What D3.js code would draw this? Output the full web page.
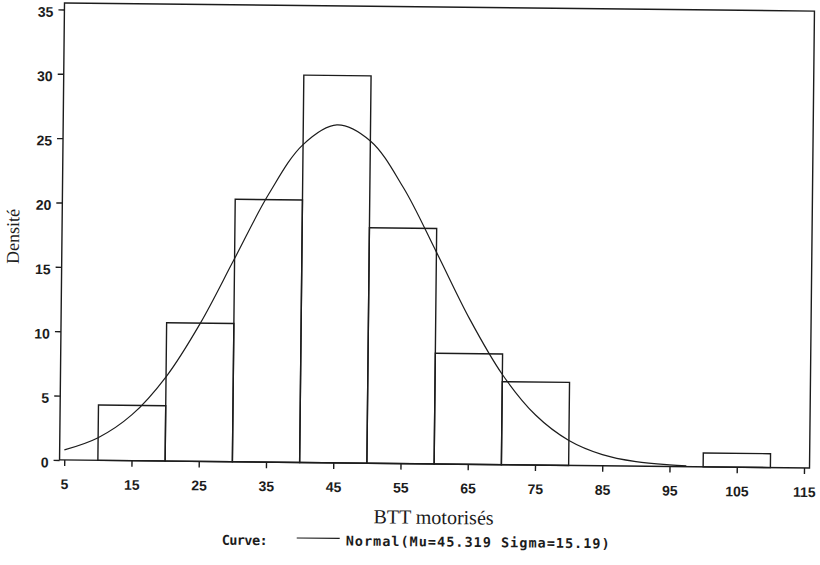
<!DOCTYPE html>
<html>
<head>
<meta charset="utf-8">
<script src="https://cdn.jsdelivr.net/npm/d3@7"></script>
<style>
  html, body { margin: 0; padding: 0; background: #fff; }
  svg { display: block; }
</style>
</head>
<body>
<svg id="chart" width="820" height="565"></svg>
<script>
// ---- data ----
const binStarts = [10, 20, 30, 40, 50, 60, 70, 100];
const binWidth = 10;
const densities = [4.3, 10.75, 20.4, 30.1, 18.3, 8.6, 6.45, 1.08];
const curveX = [5, 10, 15, 20, 25, 30, 35, 40, 45, 50, 55, 60, 65, 70, 75, 80, 85, 90, 95, 97.5];
const curveY = [0.78, 1.76, 3.58, 6.55, 10.73, 15.79, 20.85, 24.70, 26.26, 25.04, 21.43, 16.46, 11.34, 7.01, 3.89, 1.94, 0.87, 0.35, 0.125, 0.072];
const xTicks = [5, 15, 25, 35, 45, 55, 65, 75, 85, 95, 105, 115];
const yTicks = [0, 5, 10, 15, 20, 25, 30, 35];
const xTitle = "BTT motorisés";
const yTitle = "Densité";
const legendLabel = "Curve:";
const legendText = "Normal(Mu=45.319 Sigma=15.19)";

// ---- layout ----
const frame = { left: 62, right: 812, top: 7, bottom: 464 };
const ink = "#1c1c1c";

const svg = d3.select("#chart");
const g = svg.append("g").attr("transform", "rotate(0.62, 437, 236)");

const x = d3.scaleLinear().domain([5, 115]).range([66.7, 806.5]);
const y = d3.scaleLinear().domain([0, 35]).range([464, 13.5]);

// frame
g.append("rect")
  .attr("x", frame.left).attr("y", frame.top)
  .attr("width", frame.right - frame.left).attr("height", frame.bottom - frame.top)
  .attr("fill", "none").attr("stroke", ink).attr("stroke-width", 1.4);

// bars
g.selectAll("rect.bar").data(binStarts).enter().append("rect")
  .attr("class", "bar")
  .attr("x", d => x(d))
  .attr("width", d => x(d + binWidth) - x(d))
  .attr("y", (d, i) => y(densities[i]))
  .attr("height", (d, i) => y(0) - y(densities[i]))
  .attr("fill", "none").attr("stroke", ink).attr("stroke-width", 1.4);

// normal curve
const line = d3.line()
  .x((d, i) => x(curveX[i]))
  .y(d => y(d))
  .curve(d3.curveCatmullRom);
g.append("path").datum(curveY)
  .attr("d", line)
  .attr("fill", "none").attr("stroke", ink).attr("stroke-width", 1.2);

// x axis
const xAxis = d3.axisBottom(x).tickValues(xTicks).tickSize(6).tickPadding(14).tickSizeOuter(0);
const gx = g.append("g").attr("transform", `translate(0,${frame.bottom})`).call(xAxis);
gx.select(".domain").remove();
gx.selectAll(".tick line").attr("stroke", ink).attr("stroke-width", 1.4);
gx.selectAll(".tick text")
  .attr("fill", ink)
  .style("font-family", "'Liberation Sans', Arial, sans-serif")
  .style("font-weight", "bold")
  .style("font-size", "14px")
  .attr("dy", null)
  .attr("y", 29);

// y axis
const yAxis = d3.axisLeft(y).tickValues(yTicks).tickSize(6).tickPadding(5).tickSizeOuter(0);
const gy = g.append("g").attr("transform", `translate(${frame.left},0)`).call(yAxis);
gy.select(".domain").remove();
gy.selectAll(".tick line").attr("stroke", ink).attr("stroke-width", 1.4);
gy.selectAll(".tick text")
  .attr("fill", ink)
  .style("font-family", "'Liberation Sans', Arial, sans-serif")
  .style("font-weight", "bold")
  .style("font-size", "14px")
  .attr("dy", "0.5em");

// titles
g.append("text")
  .attr("x", 436.6).attr("y", 524)
  .attr("text-anchor", "middle")
  .style("font-family", "'Liberation Serif', 'Times New Roman', serif")
  .style("font-size", "20px")
  .attr("fill", ink)
  .text(xTitle);

g.append("text")
  .attr("transform", "translate(19,241) rotate(-90)")
  .attr("text-anchor", "middle")
  .style("font-family", "'Liberation Serif', 'Times New Roman', serif")
  .style("font-size", "18px")
  .attr("fill", ink)
  .text(yTitle);

// legend
const mono = "'DejaVu Sans Mono', 'Liberation Mono', monospace";
g.append("text")
  .attr("x", 225).attr("y", 547)
  .style("font-family", mono).style("font-weight", "bold").style("font-size", "13.5px")
  .attr("textLength", 46).attr("lengthAdjust", "spacing")
  .attr("fill", ink).text(legendLabel);
g.append("line")
  .attr("x1", 300).attr("x2", 343).attr("y1", 539.5).attr("y2", 539.5)
  .attr("stroke", ink).attr("stroke-width", 1.2);
g.append("text")
  .attr("x", 349).attr("y", 546.5)
  .style("font-family", mono).style("font-weight", "bold").style("font-size", "13.5px")
  .attr("textLength", 264).attr("lengthAdjust", "spacing")
  .attr("fill", ink).text(legendText);
</script>
</body>
</html>
